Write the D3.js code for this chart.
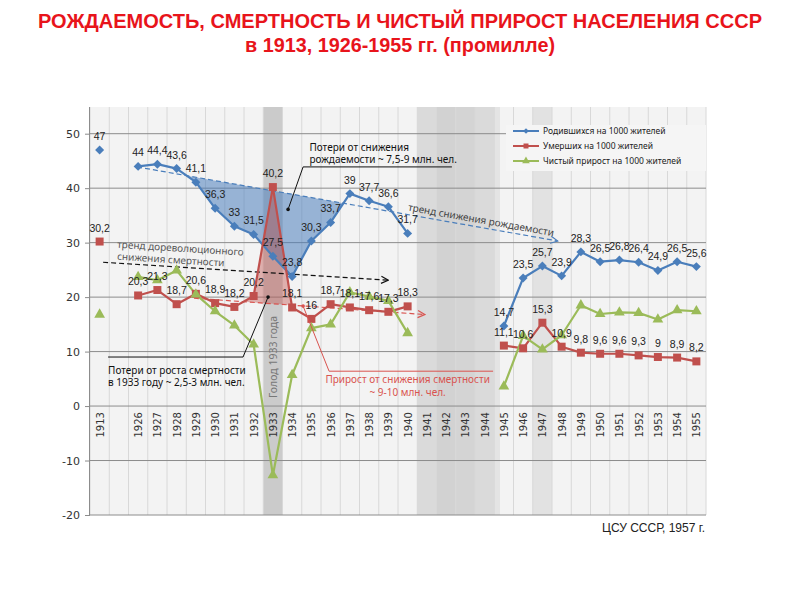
<!DOCTYPE html>
<html><head><meta charset="utf-8">
<script src="https://cdn.jsdelivr.net/npm/d3@7"></script>
<style>
body{margin:0;background:#fff;}
svg text{font-family:"Liberation Sans",Arial,sans-serif;}
</style></head>
<body><svg id="c" width="800" height="600"></svg>
<script>
const categories = ["1913","","1926","1927","1928","1929","1930","1931","1932","1933","1934","1935","1936","1937","1938","1939","1940","1941","1942","1943","1944","1945","1946","1947","1948","1949","1950","1951","1952","1953","1954","1955"];
const births = [47,null,44,44.4,43.6,41.1,36.3,33,31.5,27.5,23.8,30.3,33.7,39,37.7,36.6,31.7,null,null,null,null,14.7,23.5,25.7,23.9,28.3,26.5,26.8,26.4,24.9,26.5,25.6];
const deaths = [30.2,null,20.3,21.3,18.7,20.6,18.9,18.2,20.2,40.2,18.1,16,18.7,18.1,17.6,17.3,18.3,null,null,null,null,11.1,10.6,15.3,10.9,9.8,9.6,9.6,9.3,9,8.9,8.2];
const netGrowth = [16.8,null,23.7,23.1,24.9,20.5,17.4,14.8,11.3,-12.7,5.7,14.3,15.0,20.9,20.1,19.3,13.4,null,null,null,null,3.6,12.9,10.4,13.0,18.5,16.9,17.2,17.1,15.9,17.6,17.4];
const yTicks = [-20,-10,0,10,20,30,40,50];
const seriesNames = ["Родившихся на 1000 жителей","Умерших на 1000 жителей","Чистый прирост на 1000 жителей"];
// trend lines: [index, value] endpoints
const birthTrend = [[1.95,43.9],[23.8,30.3]];
const deathTrend = [[4.9,19.8],[16.9,16.8]];
const prerevTrend = [[0.18,26.4],[15.0,23.1]];

const svg = d3.select("#c");
const L=90,R=706,T=107,B=515;
const x = d3.scaleLinear().domain([-0.5,31.5]).range([L,R]);
const y = d3.scaleLinear().domain([-20,54.9]).range([B,T]);
const fmt = v => String(v).replace(".",",");
const blue="#4a7ebb", red="#c0504d", green="#9bbb59";

// title
svg.append("text").attr("x",400).attr("y",28).attr("text-anchor","middle")
  .attr("textLength",724).attr("lengthAdjust","spacingAndGlyphs")
  .style("font-weight","bold").style("font-size","21px").attr("fill","#e8141b").text("РОЖДАЕМОСТЬ, СМЕРТНОСТЬ И ЧИСТЫЙ ПРИРОСТ НАСЕЛЕНИЯ СССР");
svg.append("text").attr("x",400).attr("y",52).attr("text-anchor","middle")
  .attr("textLength",310).attr("lengthAdjust","spacingAndGlyphs")
  .style("font-weight","bold").style("font-size","21px").attr("fill","#e8141b").text("в 1913, 1926-1955 гг. (промилле)");

// plot background
svg.append("rect").attr("x",L).attr("y",T).attr("width",R-L).attr("height",B-T).attr("fill","#f3f3f3");
// shaded bands
const bands = [[9,"#cbcbcb"],[17,"#dadada"],[18,"#d2d2d2"],[19,"#d4d4d4"],[20,"#dadada"],[23,"#e2e2e2"]];
bands.forEach(([i,c])=>svg.append("rect").attr("x",x(i-0.5)).attr("y",T).attr("width",x(i+0.5)-x(i-0.5)).attr("height",B-T).attr("fill",c));
svg.append("rect").attr("x",x(20.5)).attr("y",T).attr("width",x(20.8)-x(20.5)).attr("height",B-T).attr("fill","#e4e4e4");
// vertical grid
d3.range(0,33).forEach(k=>svg.append("line").attr("x1",x(k-0.5)).attr("x2",x(k-0.5)).attr("y1",T).attr("y2",B).attr("stroke","#d8d8d8").attr("stroke-width",1));
// horizontal grid
yTicks.forEach(t=>svg.append("line").attr("x1",L).attr("x2",R).attr("y1",y(t)).attr("y2",y(t)).attr("stroke","#8c8c8c").attr("stroke-width",1));
// y axis
const ya = svg.append("g").attr("transform",`translate(${L},0)`).call(d3.axisLeft(y).tickValues(yTicks).tickSize(5).tickPadding(5).tickFormat(d=>d));
ya.select(".domain").attr("stroke","#8c8c8c").attr("d",`M-0.5,${T}V${B}`);
ya.selectAll(".tick line").attr("stroke","#8c8c8c");
ya.selectAll("text").style("font-family","'DejaVu Sans',sans-serif").style("font-size","11px").attr("fill","#333");
// x axis labels
const xa = svg.append("g").attr("transform",`translate(0,${y(0)})`).call(d3.axisBottom(x).tickValues(d3.range(32)).tickSize(0).tickFormat(i=>categories[i]));
xa.select(".domain").remove();
xa.selectAll("text").attr("transform","rotate(-90)").attr("text-anchor","end").attr("x",-6).attr("y",0).attr("dy","0.35em")
  .style("font-family","'DejaVu Sans',sans-serif").style("font-size","10px").attr("fill","#333");

// helpers for shaded areas between series and trend
function trendVal(tr,i){const [[i0,v0],[i1,v1]]=tr;return v0+(v1-v0)*(i-i0)/(i1-i0);}
function regionPoly(vals,tr,from,to,sign){
  const top=[];
  for(let i=from;i<to;i++){
    const d0=(vals[i]-trendVal(tr,i))*sign, d1=(vals[i+1]-trendVal(tr,i+1))*sign;
    if(d0>=0){top.push([i,vals[i]]);}
    if((d0>=0)!==(d1>=0)){const t=d0/(d0-d1);const ii=i+t;top.push([ii,trendVal(tr,ii)]);}
  }
  const last=to; if((vals[last]-trendVal(tr,last))*sign>=0) top.push([last,vals[last]]);
  return top;
}
const bPoly = regionPoly(births,birthTrend,4,13,-1);
svg.append("path").attr("d",d3.line().x(d=>x(d[0])).y(d=>y(d[1]))(bPoly)+"Z").attr("fill","#4a7ebb").attr("fill-opacity",0.55);
const rPoly = regionPoly(deaths,deathTrend,7,10,1);
svg.append("path").attr("d",d3.line().x(d=>x(d[0])).y(d=>y(d[1]))(rPoly)+"Z").attr("fill","#c0504d").attr("fill-opacity",0.42);

// arrow markers
const defs=svg.append("defs");
function mk(id,c){defs.append("marker").attr("id",id).attr("viewBox","0 0 10 10").attr("refX",9).attr("refY",5)
  .attr("markerWidth",9).attr("markerHeight",9).attr("orient","auto").attr("markerUnits","userSpaceOnUse")
  .append("path").attr("d","M1,1L9,5L1,9").attr("fill","none").attr("stroke",c).attr("stroke-width",1.3);}
mk("ab","#4a7ebb");mk("ak","#111");mk("ar","#d9534f");
function trendLine(tr,c,m,dash,w){svg.append("line").attr("x1",x(tr[0][0])).attr("y1",y(tr[0][1])).attr("x2",x(tr[1][0])).attr("y2",y(tr[1][1]))
  .attr("stroke",c).attr("stroke-width",w).attr("stroke-dasharray",dash).attr("marker-end",`url(#${m})`);}
trendLine(birthTrend,"#4a7ebb","ab","5,3",1.2);
trendLine(prerevTrend,"#111","ak","5,3",1.2);
trendLine(deathTrend,"#d9534f","ar","5,3",1.2);

// trend texts
function angle(tr){return Math.atan2(y(tr[1][1])-y(tr[0][1]),x(tr[1][0])-x(tr[0][0]))*180/Math.PI;}
const ab=angle(birthTrend);
{const i=16.0,v=trendVal(birthTrend,i);
 svg.append("text").attr("transform",`translate(${x(i)},${y(v)-4}) rotate(${ab})`).style("font-family","'Noto Sans',sans-serif").style("font-size","10px").attr("fill","#444").text("тренд снижения рождаемости");}
const ak=angle(prerevTrend);
svg.append("text").attr("transform",`translate(${x(0.9)},${y(26.5)-14}) rotate(${ak})`).style("font-family","'Noto Sans',sans-serif").style("font-size","10px").attr("fill","#555").text("тренд дореволюционного");
svg.append("text").attr("transform",`translate(${x(0.9)},${y(26.5)-2}) rotate(${ak})`).style("font-family","'Noto Sans',sans-serif").style("font-size","10px").attr("fill","#555").text("снижения смертности");

// Famine label
svg.append("text").attr("transform",`translate(${x(9)+4},${y(9)}) rotate(-90)`).attr("text-anchor","middle")
  .style("font-family","'Noto Sans',sans-serif").style("font-size","10.5px").attr("fill","#777").text("Голод 1933 года");

// series lines & markers
const series=[{v:births,c:blue,sym:"diamond"},{v:deaths,c:red,sym:"square"},{v:netGrowth,c:green,sym:"triangle"}];
const segs=[[2,16],[21,31]];
series.forEach(s=>{
  segs.forEach(([a,b])=>{
    const pts=d3.range(a,b+1).map(i=>[i,s.v[i]]);
    svg.append("path").attr("d",d3.line().x(d=>x(d[0])).y(d=>y(d[1]))(pts)).attr("fill","none").attr("stroke",s.c).attr("stroke-width",2.2).attr("stroke-linejoin","round");
  });
});
function symPath(t){
  if(t==="diamond") return d3.symbol(d3.symbolSquare,40)();
  if(t==="square") return d3.symbol(d3.symbolSquare,64)();
  return d3.symbol(d3.symbolTriangle,50)();
}
series.forEach(s=>{
  s.v.forEach((v,i)=>{ if(v==null) return;
    svg.append("path").attr("d",symPath(s.sym)).attr("fill",s.c)
      .attr("transform",`translate(${x(i)},${y(v)})`+(s.sym==="diamond"?" rotate(45)":""));
  });
});
// data labels
[births,deaths].forEach(arr=>arr.forEach((v,i)=>{ if(v==null) return;
  svg.append("text").attr("x",x(i)).attr("y",y(v)-10).attr("text-anchor","middle").style("font-size","10.5px").attr("fill","#222").text(fmt(v));
}));

// annotations
const annFont="'Noto Sans',sans-serif";
svg.append("circle").attr("cx",x(9.79)).attr("cy",y(36.1)).attr("r",1.8).attr("fill","#111");
svg.append("path").attr("d",`M${x(9.79)},${y(36.1)}L${x(10.57)},${y(43.9)}H${x(18.3)}`).attr("fill","none").attr("stroke","#111").attr("stroke-width",1);
svg.append("text").attr("x",x(10.9)).attr("y",y(46.9)).style("font-family",annFont).style("font-size","10px").attr("fill","#111").text("Потери от снижения");
svg.append("text").attr("x",x(10.9)).attr("y",y(44.6)).style("font-family",annFont).style("font-size","10px").attr("fill","#111").text("рождаемости ~ 7,5-9 млн. чел.");
svg.append("circle").attr("cx",x(8.75)).attr("cy",y(20.0)).attr("r",1.8).attr("fill","#111");
svg.append("path").attr("d",`M${x(8.75)},${y(20.0)}L${x(7.45)},${y(9.0)}H${x(0.44)}`).attr("fill","none").attr("stroke","#111").attr("stroke-width",1);
svg.append("text").attr("x",x(0.44)).attr("y",y(5.9)).style("font-family",annFont).style("font-size","10px").attr("fill","#111").text("Потери от роста смертности");
svg.append("text").attr("x",x(0.44)).attr("y",y(3.6)).style("font-family",annFont).style("font-size","10px").attr("fill","#111").text("в 1933 году ~ 2,5-3 млн. чел.");
svg.append("circle").attr("cx",x(10.57)).attr("cy",y(18.35)).attr("r",1.8).attr("fill","#d9534f");
svg.append("path").attr("d",`M${x(10.57)},${y(18.35)}L${x(11.92)},${y(6.4)}H${x(20.44)}`).attr("fill","none").attr("stroke","#d9534f").attr("stroke-width",1);
svg.append("text").attr("x",x(16.0)).attr("y",y(4.3)).attr("text-anchor","middle").style("font-family",annFont).style("font-size","10px").attr("fill","#d9534f").text("Прирост от снижения смертности");
svg.append("text").attr("x",x(16.0)).attr("y",y(1.8)).attr("text-anchor","middle").style("font-family",annFont).style("font-size","10px").attr("fill","#d9534f").text("~ 9-10 млн. чел.");

// legend
const lg=svg.append("g");
lg.append("rect").attr("x",506).attr("y",125).attr("width",R-506).attr("height",46).attr("fill","#f5f5f5");
series.forEach((s,k)=>{
  const yy=131+k*15;
  lg.append("line").attr("x1",513).attr("x2",539).attr("y1",yy).attr("y2",yy).attr("stroke",s.c).attr("stroke-width",2);
  lg.append("path").attr("d",s.sym==="diamond"?d3.symbol(d3.symbolSquare,16)():s.sym==="square"?d3.symbol(d3.symbolSquare,25)():d3.symbol(d3.symbolTriangle,25)())
    .attr("fill",s.c).attr("transform",`translate(526,${yy})`+(s.sym==="diamond"?" rotate(45)":""));
  lg.append("text").attr("x",543).attr("y",yy+3).style("font-family",annFont).style("font-size","8.5px").attr("fill","#222").text(seriesNames[k]);
});

// source
svg.append("text").attr("x",705).attr("y",532).attr("text-anchor","end")
  .attr("textLength",103).attr("lengthAdjust","spacingAndGlyphs")
  .style("font-size","13px").attr("fill","#222").text("ЦСУ СССР, 1957 г.");
</script></body></html>
